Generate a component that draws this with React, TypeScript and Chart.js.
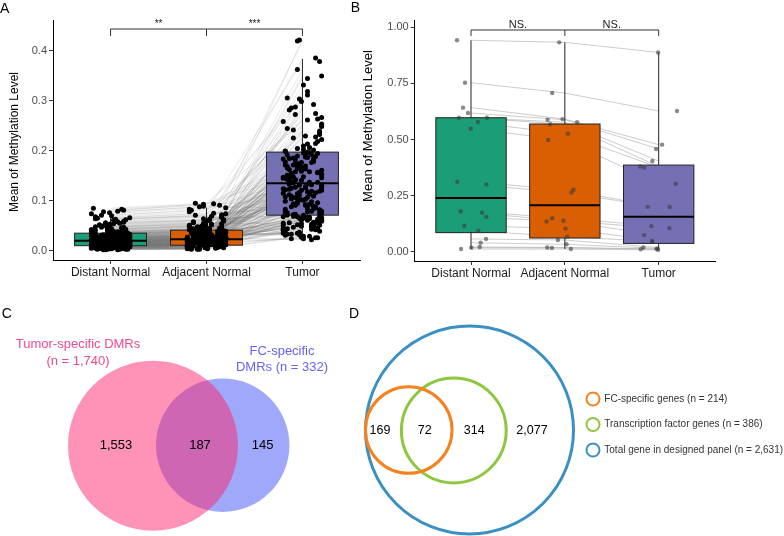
import React, { useEffect, useRef } from 'react';
import { Chart, registerables } from 'chart.js';
Chart.register(...registerables);

const FONT = '"Liberation Sans", Arial, Helvetica, sans-serif';
Chart.defaults.font.family = FONT;

// ---------- shared categories ----------
const groups = ['Distant Normal', 'Adjacent Normal', 'Tumor'];
const groupColors = ['#1B9E77', '#D95F02', '#7570B3'];
const yTitle = 'Mean of Methylation Level';

// ---------- Panel A data (paired samples) ----------
const aDistant = [
  0.018, 0.006, 0.031, 0.012, 0.024, 0.042, 0.009, 0.015, 0.027, 0.003,
  0.021, 0.036, 0.011, 0.058, 0.017, 0.007, 0.029, 0.013, 0.019, 0.046,
  0.004, 0.023, 0.033, 0.010, 0.068, 0.016, 0.026, 0.008, 0.039, 0.014,
  0.020, 0.002, 0.034, 0.052, 0.012, 0.025, 0.006, 0.018, 0.030, 0.083,
  0.011, 0.022, 0.044, 0.009, 0.016, 0.037, 0.005, 0.028, 0.013, 0.061,
  0.019, 0.032, 0.007, 0.024, 0.015, 0.049, 0.010, 0.021, 0.003, 0.035,
  0.017, 0.074, 0.012, 0.027, 0.008, 0.040, 0.020, 0.014, 0.031, 0.006,
  0.023, 0.055, 0.011, 0.018, 0.038, 0.004, 0.026, 0.016, 0.066, 0.009,
  0.029, 0.013, 0.021, 0.045, 0.007, 0.034, 0.019, 0.002, 0.025, 0.085,
  0.015, 0.032, 0.010, 0.051, 0.022, 0.006, 0.028, 0.017, 0.041, 0.012,
  0.020, 0.008, 0.036, 0.014, 0.063, 0.024, 0.005, 0.030, 0.018, 0.047,
  0.011, 0.026, 0.078, 0.009, 0.019, 0.033, 0.013, 0.003, 0.023, 0.057,
  0.016, 0.039, 0.007, 0.027, 0.021, 0.010, 0.043, 0.015, 0.071, 0.012,
  0.029, 0.004, 0.020, 0.035, 0.008, 0.053, 0.017, 0.024, 0.011, 0.081,
  0.014, 0.031, 0.006, 0.022, 0.048, 0.018, 0.009, 0.026, 0.013, 0.037,
  0.022, 0.008, 0.035, 0.013, 0.027, 0.047, 0.010, 0.017, 0.030, 0.005,
  0.019, 0.039, 0.012, 0.062, 0.016, 0.006, 0.025, 0.014, 0.021, 0.043,
  0.003, 0.024, 0.036, 0.011, 0.070, 0.018, 0.028, 0.009, 0.041, 0.015,
  0.022, 0.004, 0.032, 0.054, 0.013, 0.026, 0.007, 0.020, 0.033, 0.076,
  0.010, 0.023, 0.045, 0.008, 0.017, 0.038, 0.006, 0.029, 0.014, 0.059,
  0.020, 0.034, 0.005, 0.025, 0.016, 0.050, 0.011, 0.022, 0.002, 0.031,
  0.018, 0.065, 0.013, 0.028, 0.009, 0.042, 0.021, 0.015, 0.033, 0.007,
  0.024, 0.056, 0.012, 0.019, 0.037, 0.003, 0.027, 0.017, 0.079, 0.010,
  0.030, 0.014, 0.022, 0.048, 0.006, 0.035, 0.020, 0.004, 0.026, 0.064,
];
const aAdjacent = [
  0.021, 0.009, 0.036, 0.014, 0.028, 0.052, 0.011, 0.019, 0.033, 0.004,
  0.025, 0.043, 0.013, 0.067, 0.020, 0.008, 0.034, 0.016, 0.023, 0.055,
  0.006, 0.027, 0.039, 0.012, 0.078, 0.018, 0.030, 0.010, 0.046, 0.017,
  0.024, 0.003, 0.040, 0.061, 0.015, 0.029, 0.007, 0.022, 0.035, 0.093,
  0.013, 0.026, 0.049, 0.011, 0.019, 0.042, 0.006, 0.032, 0.016, 0.072,
  0.023, 0.038, 0.009, 0.028, 0.018, 0.057, 0.012, 0.025, 0.004, 0.041,
  0.020, 0.086, 0.014, 0.031, 0.010, 0.047, 0.024, 0.017, 0.036, 0.008,
  0.027, 0.063, 0.013, 0.021, 0.044, 0.005, 0.030, 0.019, 0.075, 0.011,
  0.033, 0.015, 0.025, 0.053, 0.009, 0.039, 0.022, 0.003, 0.029, 0.095,
  0.018, 0.037, 0.012, 0.059, 0.026, 0.007, 0.032, 0.020, 0.048, 0.014,
  0.023, 0.010, 0.042, 0.016, 0.069, 0.028, 0.006, 0.035, 0.021, 0.054,
  0.013, 0.030, 0.088, 0.011, 0.022, 0.038, 0.015, 0.004, 0.027, 0.064,
  0.019, 0.045, 0.009, 0.031, 0.024, 0.012, 0.050, 0.017, 0.081, 0.014,
  0.034, 0.005, 0.023, 0.040, 0.010, 0.060, 0.020, 0.028, 0.013, 0.091,
  0.016, 0.036, 0.008, 0.026, 0.056, 0.021, 0.011, 0.030, 0.015, 0.043,
  0.024, 0.010, 0.039, 0.015, 0.030, 0.056, 0.012, 0.020, 0.035, 0.005,
  0.022, 0.045, 0.014, 0.070, 0.019, 0.007, 0.029, 0.017, 0.025, 0.050,
  0.004, 0.028, 0.041, 0.013, 0.083, 0.021, 0.032, 0.011, 0.048, 0.018,
  0.026, 0.005, 0.037, 0.062, 0.016, 0.030, 0.008, 0.023, 0.038, 0.089,
  0.012, 0.027, 0.051, 0.010, 0.020, 0.044, 0.007, 0.033, 0.017, 0.068,
  0.024, 0.040, 0.006, 0.029, 0.019, 0.058, 0.013, 0.026, 0.003, 0.036,
  0.021, 0.074, 0.015, 0.032, 0.011, 0.049, 0.025, 0.018, 0.038, 0.009,
  0.028, 0.061, 0.014, 0.022, 0.043, 0.004, 0.031, 0.020, 0.094, 0.012,
  0.034, 0.016, 0.026, 0.052, 0.008, 0.040, 0.023, 0.005, 0.030, 0.071,
];
const aTumor = [
  0.135, 0.062, 0.188, 0.041, 0.227, 0.097, 0.153, 0.071, 0.118, 0.305,
  0.048, 0.176, 0.083, 0.142, 0.263, 0.029, 0.109, 0.196, 0.057, 0.131,
  0.214, 0.066, 0.162, 0.092, 0.378, 0.124, 0.035, 0.171, 0.078, 0.248,
  0.144, 0.053, 0.199, 0.102, 0.287, 0.069, 0.157, 0.024, 0.113, 0.183,
  0.421, 0.087, 0.139, 0.061, 0.236, 0.128, 0.045, 0.167, 0.094, 0.318,
  0.151, 0.074, 0.192, 0.038, 0.121, 0.272, 0.058, 0.148, 0.104, 0.206,
  0.065, 0.179, 0.026, 0.133, 0.349, 0.081, 0.163, 0.052, 0.115, 0.241,
  0.186, 0.071, 0.126, 0.043, 0.298, 0.099, 0.158, 0.063, 0.209, 0.137,
  0.033, 0.174, 0.089, 0.385, 0.146, 0.056, 0.119, 0.194, 0.068, 0.258,
  0.107, 0.047, 0.165, 0.079, 0.222, 0.141, 0.031, 0.181, 0.096, 0.331,
  0.154, 0.064, 0.111, 0.201, 0.042, 0.129, 0.281, 0.075, 0.169, 0.055,
  0.362, 0.136, 0.085, 0.191, 0.049, 0.253, 0.122, 0.027, 0.173, 0.101,
  0.218, 0.067, 0.149, 0.037, 0.292, 0.116, 0.184, 0.059, 0.232, 0.091,
  0.419, 0.145, 0.072, 0.197, 0.044, 0.266, 0.132, 0.061, 0.177, 0.106,
  0.024, 0.156, 0.084, 0.311, 0.125, 0.051, 0.189, 0.068, 0.244, 0.139,
  0.058, 0.128, 0.183, 0.046, 0.105, 0.152, 0.069, 0.213, 0.033, 0.119,
  0.166, 0.077, 0.142, 0.026, 0.195, 0.088, 0.134, 0.053, 0.172, 0.274,
  0.064, 0.112, 0.187, 0.039, 0.147, 0.095, 0.225, 0.061, 0.131, 0.168,
  0.022, 0.108, 0.159, 0.073, 0.202, 0.045, 0.138, 0.093, 0.178, 0.303,
  0.056, 0.123, 0.161, 0.082, 0.229, 0.035, 0.114, 0.185, 0.067, 0.143,
  0.251, 0.098, 0.171, 0.049, 0.127, 0.194, 0.071, 0.155, 0.029, 0.117,
  0.182, 0.086, 0.134, 0.062, 0.239, 0.103, 0.164, 0.041, 0.148, 0.344,
  0.076, 0.121, 0.176, 0.054, 0.198, 0.091, 0.137, 0.065, 0.158, 0.285,
  0.032, 0.109, 0.188, 0.079, 0.145, 0.051, 0.126, 0.204, 0.068, 0.261,
];
// jitter codes: a..t -> -0.2..+0.2 category units
const aJitter = [
  'hqcmtaklfrbognejsdipkatmcqhfrlbgoenjdsiptakmcqhrflogbenjsdiqtapkmrchflbogenjsdtiqakpmcrhfblogenjdsitqakpmrchlfbognejsdiqtkapmcrhflbognejdsiqtamkcrbgeoltsh',
  'motbhjqaecslgrkpdnfiatqmbhjcreoglsdkpnfitabqmhjecrogslkdpnfiqtbmahjcerolgsdkpfniqbtmajhcreoglsdkpnfitqbamhjcerolgsdpkfnitqbmahjecrlogsdkpfnqitbmdkasgr',
  'dslaqhtfmcojbgrkenpiqtdlsahfmtcobjgkrenpiqdtslahfmctobjgrkenipqdtslhafmctojbgrkneipqtdslhamfcotjbgrkenipqtdslahfmcotbjgkrneipqdtslhafmctojbgkrpmeahsc',
];
const aQ1 = [0.010, 0.011, 0.071];
const aMedian = [0.020, 0.023, 0.135];
const aQ3 = [0.035, 0.041, 0.197];
const aWhiskerLow = [0.0, 0.002, 0.021];
const aWhiskerHigh = [0.072, 0.086, 0.383];
const aTicks = [0, 0.1, 0.2, 0.3, 0.4];
const aSignif = ['**', '***'];

// ---------- Panel B data (paired samples, ordered) ----------
const bDistant = [0.942, 0.753, 0.642, 0.618, 0.597, 0.597, 0.578, 0.548, 0.312, 0.300, 0.180, 0.174, 0.155, 0.116, 0.094, 0.057, 0.040, 0.021, 0.018, 0.012];
const bAdjacent = [0.933, 0.707, 0.591, 0.588, 0.577, 0.568, 0.526, 0.498, 0.276, 0.264, 0.149, 0.138, 0.135, 0.103, 0.067, 0.052, 0.033, 0.019, 0.017, 0.012];
const bTumor = [0.888, 0.627, 0.477, 0.458, 0.404, 0.380, 0.375, 0.303, 0.200, 0.199, 0.114, 0.105, 0.074, 0.048, 0.045, 0.019, 0.015, 0.012, 0.011, 0.008];
const bJitterDistant = [-0.149, -0.064, -0.085, -0.032, -0.128, 0.170, 0.074, -0.003, -0.146, 0.163, -0.110, 0.117, 0.163, -0.071, 0.078, 0.160, 0.103, 0.093, 0.003, -0.106];
const bJitterAdjacent = [-0.060, -0.135, -0.025, -0.184, 0.131, -0.156, 0.032, -0.177, 0.092, 0.071, -0.135, -0.014, -0.195, 0.007, 0.025, -0.074, 0.018, -0.188, -0.138, 0.064];
const bJitterTumor = [-0.006, 0.195, 0.036, -0.028, -0.067, -0.198, -0.155, 0.181, -0.117, 0.117, -0.078, 0.114, -0.155, -0.070, -0.070, -0.163, -0.014, -0.024, -0.191, -0.006];
const bQ1 = [0.085, 0.061, 0.037];
const bMedian = [0.239, 0.207, 0.156];
const bQ3 = [0.597, 0.569, 0.386];
const bWhiskerLow = [0.012, 0.012, 0.008];
const bWhiskerHigh = [0.942, 0.933, 0.888];
const bTicks = [0, 0.25, 0.5, 0.75, 1.0];
const bSignif = ['NS.', 'NS.'];

// ---------- Panel C (Venn of DMRs) ----------
const cSetNames = ['Tumor-specific DMRs', 'FC-specific DMRs'];
const cSetSizes = [1740, 332];
const cSetColors = ['rgba(253,37,111,0.5)', 'rgba(65,81,245,0.5)'];
const cTextColors = ['#EE4A8C', '#6464F0'];
const cRegionCounts = [1553, 187, 145];
// circle geometry in panel units
const cCircleX = [15.3, 22.27];
const cCircleY = [9.03, 9.08];
const cCircleR = [8.5, 6.67];
const cCountX = [11.6, 20.0, 26.27];

// ---------- Panel D (gene sets) ----------
const dSetNames = ['FC-specific genes', 'Transcription factor genes', 'Total gene in designed panel'];
const dSetSizes = [214, 386, 2631];
const dSetColors = ['#F5821F', '#8DC63F', '#3A90C3'];
const dRegionCounts = [169, 72, 314, 2077];
const dCircleX = [6.37, 10.88, 12.45];
const dCircleY = [10.6, 10.55, 10.6];
const dCircleR = [4.33, 5.24, 10.4];
const dCountX = [3.5, 7.97, 12.93, 18.7];

const fmt = (n: number) => n.toLocaleString('en-US');
const jit = (s: string, i: number) => ((s.charCodeAt(i % s.length) - 97) - 9.5) / 9.5 * 0.2;

// ---------- plugins ----------
function makeBoxPlugin(cfg: any) {
  return {
    id: 'boxes',
    beforeDatasetDraw(chart: any, args: any) {
      if (args.index !== cfg.beforeIndex) return;
      const { ctx, scales: { x, y } } = chart;
      ctx.save();
      for (let i = 0; i < 3; i++) {
        const c = x.getPixelForValue(i + 1);
        const l = x.getPixelForValue(i + 1 - 0.375);
        const r = x.getPixelForValue(i + 1 + 0.375);
        const q1 = y.getPixelForValue(cfg.q1[i]);
        const q3 = y.getPixelForValue(cfg.q3[i]);
        const md = y.getPixelForValue(cfg.med[i]);
        const lo = y.getPixelForValue(cfg.lo[i]);
        const hi = y.getPixelForValue(cfg.hi[i]);
        ctx.strokeStyle = '#222';
        ctx.lineWidth = 1;
        ctx.beginPath();
        ctx.moveTo(c, q3); ctx.lineTo(c, hi);
        ctx.moveTo(c, q1); ctx.lineTo(c, lo);
        ctx.stroke();
        ctx.fillStyle = groupColors[i];
        ctx.fillRect(l, q3, r - l, q1 - q3);
        ctx.strokeRect(l, q3, r - l, q1 - q3);
        ctx.strokeStyle = '#000';
        ctx.lineWidth = 2;
        ctx.beginPath();
        ctx.moveTo(l, md); ctx.lineTo(r, md);
        ctx.stroke();
      }
      ctx.restore();
    },
    afterDraw(chart: any) {
      const { ctx, scales: { x, y } } = chart;
      ctx.save();
      const by = y.getPixelForValue(cfg.bracketY);
      const bt = y.getPixelForValue(cfg.bracketTick);
      ctx.strokeStyle = '#333';
      ctx.lineWidth = 1;
      ctx.beginPath();
      ctx.moveTo(x.getPixelForValue(1), by); ctx.lineTo(x.getPixelForValue(3), by);
      for (let k = 1; k <= 3; k++) {
        ctx.moveTo(x.getPixelForValue(k), by); ctx.lineTo(x.getPixelForValue(k), bt);
      }
      ctx.stroke();
      ctx.fillStyle = '#222';
      ctx.font = `${cfg.sigSize}px ${FONT}`;
      ctx.textAlign = 'center';
      ctx.textBaseline = 'alphabetic';
      cfg.sig.forEach((s: string, k: number) => ctx.fillText(s, x.getPixelForValue(k + 1.5), by - 2));
      ctx.save();
      ctx.translate(cfg.titleX, cfg.titleY);
      ctx.rotate(-Math.PI / 2);
      ctx.font = `${cfg.titleSize}px ${FONT}`;
      ctx.fillStyle = '#000';
      ctx.textBaseline = 'middle';
      ctx.fillText(yTitle, 0, 0);
      ctx.restore();
      ctx.font = `14px ${FONT}`;
      ctx.textAlign = 'left';
      ctx.fillStyle = '#000';
      ctx.fillText(cfg.letter, cfg.letterX, cfg.letterY);
      ctx.restore();
    },
  };
}

function makeTextPlugin(cfg: any) {
  return {
    id: 'texts',
    afterDraw(chart: any) {
      const { ctx, scales: { x, y } } = chart;
      ctx.save();
      ctx.textAlign = 'center';
      ctx.textBaseline = 'middle';
      cfg.items.forEach((it: any) => {
        ctx.font = `${it.size}px ${FONT}`;
        ctx.fillStyle = it.color;
        ctx.fillText(it.text, x.getPixelForValue(it.x), y.getPixelForValue(it.y));
      });
      if (cfg.legend) {
        const L = cfg.legend;
        chart.data.datasets.forEach((ds: any, k: number) => {
          const yy = L.y + k * L.step;
          ctx.beginPath();
          ctx.arc(L.x, yy, 6.5, 0, Math.PI * 2);
          ctx.strokeStyle = ds.borderColor;
          ctx.lineWidth = 2;
          ctx.stroke();
          ctx.font = `10px ${FONT}`;
          ctx.fillStyle = '#333';
          ctx.textAlign = 'left';
          ctx.fillText(ds.label, L.x + 11.3, yy);
        });
      }
      ctx.font = `14px ${FONT}`;
      ctx.textAlign = 'left';
      ctx.textBaseline = 'alphabetic';
      ctx.fillStyle = '#000';
      ctx.fillText(cfg.letter, cfg.letterX, cfg.letterY);
      ctx.restore();
    },
  };
}

function boxChartConfig(opts: any) {
  const pointSets = opts.values.map((vals: number[], g: number) => ({
    data: vals.map((v, i) => ({ x: g + 1 + opts.jitter(g, i), y: v })),
    backgroundColor: opts.pointColor,
    borderWidth: 0,
    pointRadius: opts.pointRadius,
  }));
  const n = opts.values[0].length;
  const lineSets = [];
  for (let i = 0; i < n; i++) {
    lineSets.push({
      data: opts.values.map((vals: number[], g: number) => ({ x: g + 1, y: vals[i] })),
      showLine: true,
      borderColor: opts.lineColor,
      borderWidth: opts.lineWidth,
      pointRadius: 0,
      fill: false,
    });
  }
  const ticks: number[] = opts.ticks;
  return {
    type: 'scatter',
    data: { datasets: [...pointSets, ...lineSets] },
    options: {
      animation: false,
      responsive: false,
      events: [],
      layout: { padding: { top: 20, right: opts.padRight, left: 0, bottom: 0 } },
      plugins: { legend: { display: false }, tooltip: { enabled: false } },
      scales: {
        x: {
          type: 'linear',
          min: 0.4,
          max: 3.6,
          afterBuildTicks: (s: any) => { s.ticks = [1, 2, 3].map((v) => ({ value: v })); },
          afterFit: (s: any) => { s.height = opts.xHeight; },
          ticks: {
            callback: (v: number) => groups[Math.round(v) - 1],
            font: { size: 12 },
            color: '#1a1a1a',
            padding: 1,
            maxRotation: 0,
            autoSkip: false,
          },
          grid: { drawOnChartArea: false, tickLength: 4, color: '#333' },
          border: { color: '#000', width: 1 },
        },
        y: {
          type: 'linear',
          min: opts.yMin,
          max: opts.yMax,
          afterBuildTicks: (s: any) => { s.ticks = ticks.map((v) => ({ value: v })); },
          afterFit: (s: any) => { s.width = opts.yWidth; },
          ticks: {
            callback: (v: number) => v.toFixed(opts.decimals),
            font: { size: opts.tickSize },
            color: '#4D4D4D',
            padding: 2,
            autoSkip: false,
          },
          grid: { drawOnChartArea: false, tickLength: 4, color: '#333' },
          border: { color: '#000', width: 1 },
        },
      },
    },
    plugins: [makeBoxPlugin(opts.box)],
  };
}

// radius in data units converted to pixels through the chart's x scale
const radiusFromScale = (ctx: any) => {
  const s = ctx.chart && ctx.chart.scales ? ctx.chart.scales.x : null;
  const d = ctx.raw;
  if (!s || !d) return 0;
  const v = Math.abs(s.getPixelForValue(d.x + d.size) - s.getPixelForValue(d.x));
  return isFinite(v) ? v : 0;
};

function vennConfig(opts: any) {
  return {
    type: 'scatter',
    data: {
      datasets: opts.circles.map((c: any) => ({
        label: c.label,
        data: [{ x: c.x, y: c.y, size: c.r }],
        backgroundColor: c.fill,
        borderColor: c.stroke,
        pointBackgroundColor: c.fill,
        pointBorderColor: c.stroke,
        pointBorderWidth: c.width,
        pointRadius: radiusFromScale,
        pointHoverRadius: radiusFromScale,
        showLine: false,
        clip: false,
      })),
    },
    options: {
      animation: false,
      responsive: false,
      events: [],
      layout: { padding: 0, autoPadding: false },
      plugins: { legend: { display: false }, tooltip: { enabled: false } },
      scales: {
        x: { type: 'linear', display: false, min: 0, max: opts.w },
        y: { type: 'linear', display: false, min: 0, max: opts.h },
      },
    },
    plugins: [makeTextPlugin(opts.text)],
  };
}

function Panel({ left, top, width, height, make }: any) {
  const ref = useRef<HTMLCanvasElement>(null);
  useEffect(() => {
    const chart = new Chart(ref.current as HTMLCanvasElement, make());
    return () => chart.destroy();
  }, []);
  return (
    <canvas
      ref={ref}
      width={width}
      height={height}
      style={{ position: 'absolute', left, top, width, height }}
    />
  );
}

export default function App() {
  useEffect(() => {
    document.body.style.margin = '0';
  }, []);

  const makeA = () =>
    boxChartConfig({
      values: [aDistant, aAdjacent, aTumor],
      jitter: (g: number, i: number) => jit(aJitter[g], i),
      pointColor: '#000',
      pointRadius: 2.5,
      lineColor: 'rgba(100,100,100,0.26)',
      lineWidth: 0.55,
      ticks: aTicks,
      decimals: 1,
      tickSize: 11,
      yMin: -0.0186,
      yMax: 0.461,
      yWidth: 53,
      xHeight: 30,
      padRight: 32,
      box: {
        beforeIndex: 2,
        q1: aQ1, q3: aQ3, med: aMedian, lo: aWhiskerLow, hi: aWhiskerHigh,
        bracketY: 0.443, bracketTick: 0.429, sig: aSignif, sigSize: 10,
        titleX: 15, titleY: 142, titleSize: 12,
        letter: 'A', letterX: 0, letterY: 12.7,
      },
    });

  const bJ = [bJitterDistant, bJitterAdjacent, bJitterTumor];
  const makeB = () =>
    boxChartConfig({
      values: [bDistant, bAdjacent, bTumor],
      jitter: (g: number, i: number) => bJ[g][i],
      pointColor: 'rgba(60,60,60,0.6)',
      pointRadius: 2.2,
      lineColor: 'rgba(170,170,170,0.75)',
      lineWidth: 0.8,
      ticks: bTicks,
      decimals: 2,
      tickSize: 11,
      yMin: -0.0414,
      yMax: 1.0325,
      yWidth: 69.7,
      xHeight: 29,
      padRight: 69,
      box: {
        beforeIndex: 2,
        q1: bQ1, q3: bQ3, med: bMedian, lo: bWhiskerLow, hi: bWhiskerHigh,
        bracketY: 0.988, bracketTick: 0.961, sig: bSignif, sigSize: 11,
        titleX: 23, titleY: 126, titleSize: 13,
        letter: 'B', letterX: 5.7, letterY: 11.7,
      },
    });

  const makeC = () =>
    vennConfig({
      w: 39.2,
      h: 24.6,
      circles: [
        { label: cSetNames[0], x: cCircleX[0], y: cCircleY[0], r: cCircleR[0], fill: cSetColors[0], stroke: 'rgba(0,0,0,0)', width: 0 },
        { label: cSetNames[1], x: cCircleX[1], y: cCircleY[1], r: cCircleR[1], fill: cSetColors[1], stroke: 'rgba(0,0,0,0)', width: 0 },
      ],
      text: {
        items: [
          { text: cSetNames[0], x: 7.8, y: 19.17, size: 13, color: cTextColors[0] },
          { text: `(n = ${fmt(cSetSizes[0])})`, x: 7.8, y: 17.5, size: 13, color: cTextColors[0] },
          { text: 'FC-specific', x: 28.2, y: 18.5, size: 13, color: cTextColors[1] },
          { text: `DMRs (n = ${fmt(cSetSizes[1])})`, x: 28.2, y: 16.83, size: 13, color: cTextColors[1] },
          ...cRegionCounts.map((v, k) => ({ text: fmt(v), x: cCountX[k], y: 9.04, size: 13, color: '#000' })),
        ],
        letter: 'C', letterX: 1.7, letterY: 28,
      },
    });

  const makeD = () =>
    vennConfig({
      w: 43.9,
      h: 24.6,
      circles: [0, 1, 2].map((k) => ({
        label: `${dSetNames[k]} (n = ${fmt(dSetSizes[k])})`, x: dCircleX[k], y: dCircleY[k], r: dCircleR[k],
        fill: 'rgba(0,0,0,0)', stroke: dSetColors[k], width: 3,
      })),
      text: {
        items: dRegionCounts.map((v, k) => ({ text: fmt(v), x: dCountX[k], y: 10.5, size: 12.5, color: '#000' })),
        legend: { x: 248, y: 109, step: 25.5 },
        letter: 'D', letterX: 4, letterY: 28,
      },
    });

  return (
    <div style={{ position: 'relative', width: 784, height: 536, background: '#fff', overflow: 'hidden' }}>
      <Panel left={0} top={0} width={392} height={290} make={makeA} />
      <Panel left={345} top={0} width={439} height={290} make={makeB} />
      <Panel left={0} top={290} width={392} height={246} make={makeC} />
      <Panel left={345} top={290} width={439} height={246} make={makeD} />
    </div>
  );
}
